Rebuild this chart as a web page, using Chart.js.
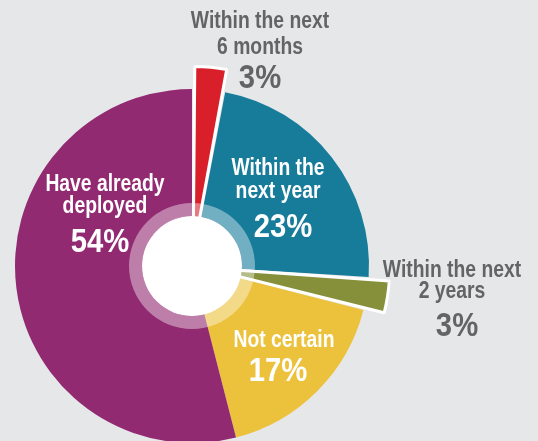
<!DOCTYPE html>
<html>
<head>
<meta charset="utf-8">
<script src="https://cdn.jsdelivr.net/npm/chart.js@4/dist/chart.umd.min.js"></script>
<style>
  html, body { margin: 0; padding: 0; background: #e6e7e8; overflow: hidden; }
  #wrap { width: 538px; height: 532px; }
</style>
</head>
<body>
<div id="wrap"><canvas id="adoptionChart"></canvas></div>
<script>
var categories = ["Within the next 6 months", "Within the next year", "Within the next 2 years", "Not certain", "Have already deployed"];
var shares = [3, 23, 3, 17, 54];
var sliceColors = ["#d91f2a", "#177b9a", "#86903a", "#ecc13b", "#922a72"];

// label lines for each slice, drawn by the plugin below
var labelLines = [
  ["Within the next", "6 months"],
  ["Within the", "next year"],
  ["Within the next", "2 years"],
  ["Not certain"],
  ["Have already", "deployed"]
];

// where each label block sits, relative to the pie centre (px)
var labelSpots = [
  { dx: 68, dy: -238, gap: 26, pctGap: 34, pctDx: 0, color: "#636466" },
  { dx: 86, dy: -91, gap: 23, pctGap: 39, pctDx: 5, color: "#ffffff" },
  { dx: 260, dy: 11, gap: 21, pctGap: 38, pctDx: 5, color: "#636466" },
  { dx: 92, dy: 81, gap: 0, pctGap: 34, pctDx: -6, color: "#ffffff" },
  { dx: -87, dy: -75, gap: 22, pctGap: 39, pctDx: -5, color: "#ffffff" }
];

function squeezedText(ctx, txt, x, y, sx) {
  ctx.save();
  ctx.translate(x, y);
  ctx.scale(sx, 1);
  ctx.fillText(txt, 0, 0);
  ctx.restore();
}

var centreAndLabels = {
  id: "centreAndLabels",
  afterDatasetsDraw: function(chart) {
    var ctx = chart.ctx;
    var arc = chart.getDatasetMeta(0).data[1];
    var cx = arc.x, cy = arc.y;

    // translucent ring and white hole
    ctx.save();
    ctx.fillStyle = "rgba(255,255,255,0.4)";
    ctx.beginPath();
    ctx.arc(cx, cy, 63, 0, Math.PI * 2);
    ctx.arc(cx, cy, 50, 0, Math.PI * 2, true);
    ctx.fill();
    ctx.fillStyle = "#ffffff";
    ctx.beginPath();
    ctx.arc(cx, cy, 50, 0, Math.PI * 2);
    ctx.fill();
    ctx.restore();

    ctx.save();
    ctx.textAlign = "center";
    ctx.textBaseline = "alphabetic";
    labelLines.forEach(function(lines, i) {
      var spot = labelSpots[i];
      ctx.fillStyle = spot.color;
      var x = cx + spot.dx;
      var y = cy + spot.dy;
      ctx.font = "bold 23px 'Liberation Sans', Arial, sans-serif";
      lines.forEach(function(line, j) {
        squeezedText(ctx, line, x, y + j * spot.gap, 0.84);
      });
      var lastY = y + (lines.length - 1) * spot.gap;
      ctx.font = "bold 34px 'Liberation Sans', Arial, sans-serif";
      squeezedText(ctx, shares[i] + "%", x + spot.pctDx, lastY + spot.pctGap, 0.86);
    });
    ctx.restore();
  }
};

new Chart("adoptionChart", {
  type: "pie",
  data: {
    labels: categories,
    datasets: [{
      data: shares,
      backgroundColor: sliceColors,
      borderColor: "#ffffff",
      borderWidth: [3, 0, 3, 0, 0],
      offset: [50, 0, 46, 0, 0]
    }]
  },
  options: {
    responsive: true,
    maintainAspectRatio: false,
    animation: false,
    radius: 177,
    layout: { padding: { left: 0, right: 154, top: 0, bottom: 0 } },
    plugins: {
      legend: { display: false },
      tooltip: { enabled: false }
    }
  },
  plugins: [centreAndLabels]
});
</script>
</body>
</html>
